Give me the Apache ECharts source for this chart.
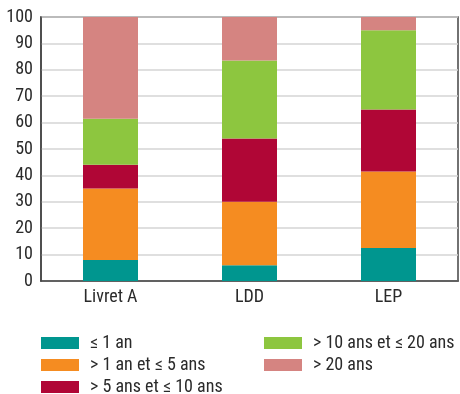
<!DOCTYPE html>
<html><head><meta charset="utf-8">
<script src="https://cdn.jsdelivr.net/npm/echarts@6/dist/echarts.min.js"></script>
<style>html,body{margin:0;padding:0;background:#fff}#c{width:460px;height:394px}</style>
</head><body><div id="c"></div>
<script>
const categories = ['Livret A', 'LDD', 'LEP'];
const seriesNames = ['≤ 1 an', '> 1 an et ≤ 5 ans', '> 5 ans et ≤ 10 ans', '> 10 ans et ≤ 20 ans', '> 20 ans'];
const s1 = [8, 6, 12.5];
const s2 = [27, 24, 29];
const s3 = [9, 24, 23.5];
const s4 = [17.5, 29.5, 30];
const s5 = [38.5, 16.5, 5];
const yTicks = [0, 10, 20, 30, 40, 50, 60, 70, 80, 90, 100];
const colors = ['#00968F', '#F58C21', '#B00636', '#8DC63F', '#D58481'];
const values = [s1, s2, s3, s4, s5];
const font = "'Liberation Sans Narrow', 'Roboto Condensed', 'Liberation Sans', sans-serif";
const chart = echarts.init(document.getElementById('c'));
const legendPos = [[41, 334], [41, 356], [41, 378], [264, 334], [264, 356]];
const legends = seriesNames.map((n, i) => ({
  data: [n], left: legendPos[i][0], top: legendPos[i][1], padding: 0, itemWidth: 38, itemHeight: 12,
  icon: 'rect', textStyle: { fontSize: 18, fontFamily: font, color: '#2a2a2a', padding: [0,0,0,6] }
}));
chart.setOption({
  animation: false,
  grid: { left: 41, right: 2, top: 17, bottom: 113, show: true, borderColor: '#444', borderWidth: 1.5, containLabel: false },
  xAxis: { type: 'category', data: categories,
    axisLine: { lineStyle: { color: '#444', width: 1.5 } }, axisTick: { show: false },
    axisLabel: { color: '#2a2a2a', fontSize: 18, fontFamily: font, margin: 7 } },
  yAxis: { type: 'value', min: yTicks[0], max: yTicks[yTicks.length-1], interval: 10,
    axisLine: { show: true, lineStyle: { color: '#444', width: 1.5 } }, axisTick: { show: false },
    splitLine: { lineStyle: { color: '#d4d4d4', width: 1.5 } },
    axisLabel: { color: '#2a2a2a', fontSize: 18, fontFamily: font, margin: 8 } },
  legend: legends,
  series: seriesNames.map((n, i) => ({
    name: n, type: 'bar', stack: 'all', data: values[i], barWidth: 55,
    itemStyle: { color: colors[i] }
  }))
});
</script></body></html>
